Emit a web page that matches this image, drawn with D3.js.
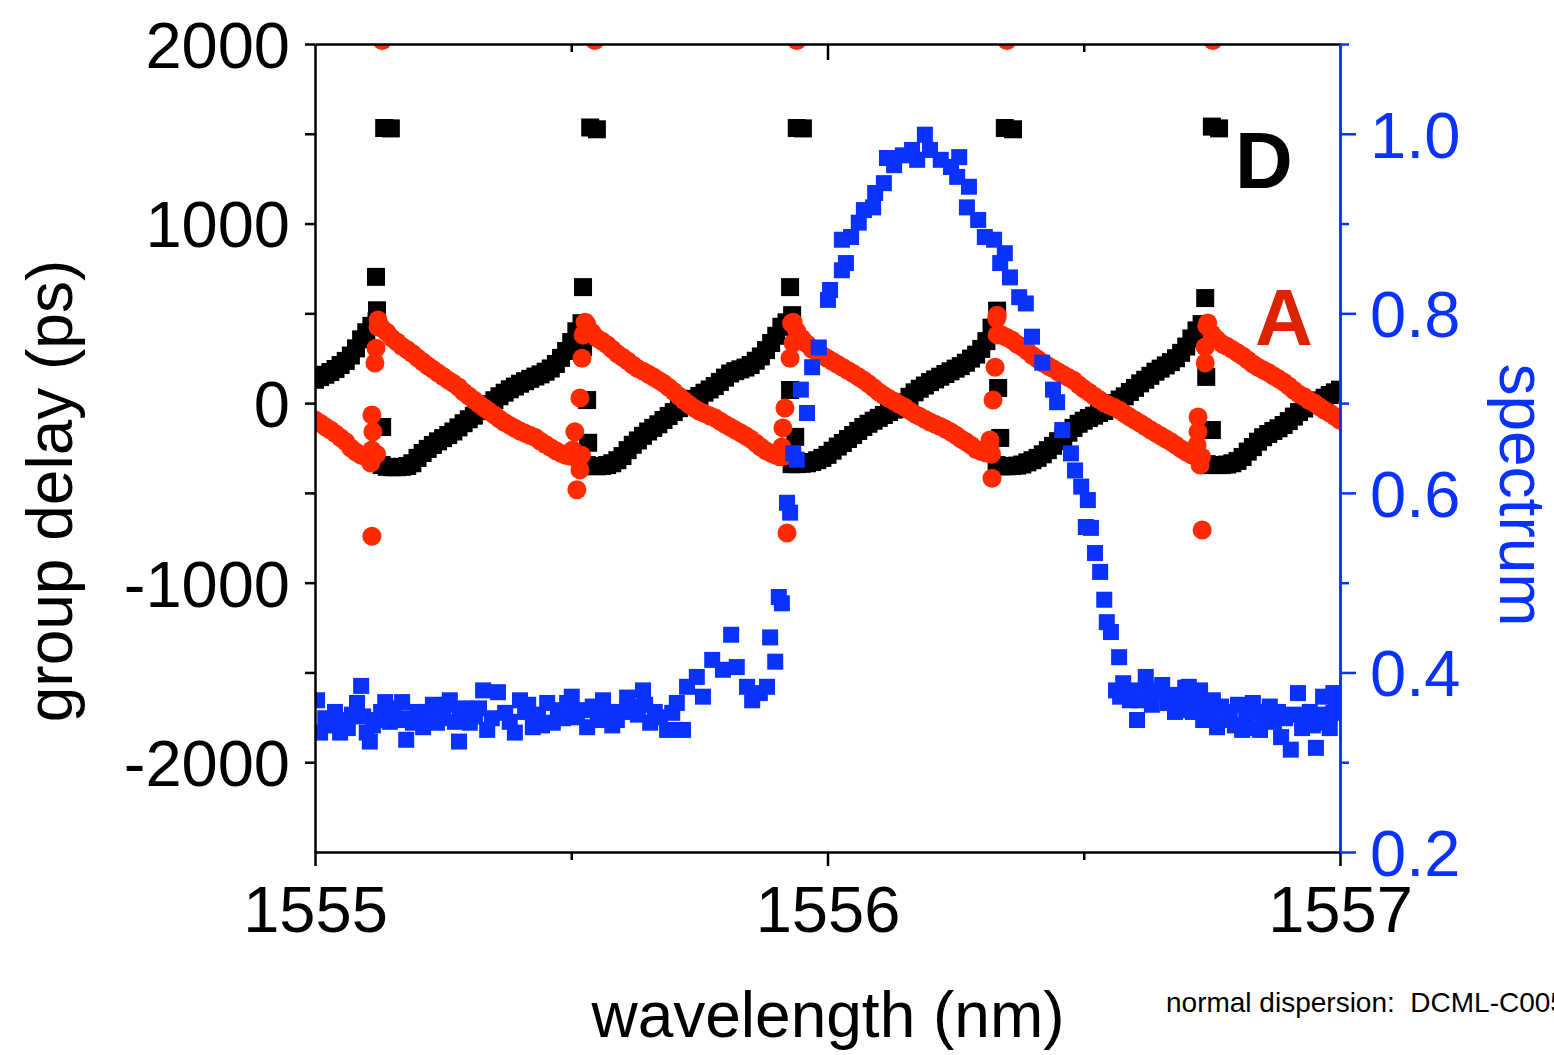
<!DOCTYPE html>
<html>
<head>
<meta charset="utf-8">
<script src="https://cdn.jsdelivr.net/npm/d3@7"></script>
<style>
  html, body { margin: 0; padding: 0; background: #fff; }
  svg { display: block; font-family: "Liberation Sans", Arial, Helvetica, sans-serif; }
</style>
</head>
<body>
<svg id="chart" width="1554" height="1055"></svg>
<script>
// ---- data -------------------------------------------------------------
// sampled wavelengths (nm) for the two group-delay traces
const wavelengths = [
  1555.00,1555.01,1555.02,1555.03,1555.04,1555.05,1555.06,1555.07,1555.08,1555.09,
  1555.10,1555.11,1555.12,1555.13,1555.14,1555.15,1555.16,1555.17,1555.18,1555.19,
  1555.20,1555.21,1555.22,1555.23,1555.24,1555.25,1555.26,1555.27,1555.28,1555.29,
  1555.30,1555.31,1555.32,1555.33,1555.34,1555.35,1555.36,1555.37,1555.38,1555.39,
  1555.40,1555.41,1555.42,1555.43,1555.44,1555.45,1555.46,1555.47,1555.48,1555.49,
  1555.50,1555.51,1555.52,1555.53,1555.54,1555.55,1555.56,1555.57,1555.58,1555.59,
  1555.60,1555.61,1555.62,1555.63,1555.64,1555.65,1555.66,1555.67,1555.68,1555.69,
  1555.70,1555.71,1555.72,1555.73,1555.74,1555.75,1555.76,1555.77,1555.78,1555.79,
  1555.80,1555.81,1555.82,1555.83,1555.84,1555.85,1555.86,1555.87,1555.88,1555.89,
  1555.90,1555.91,1555.92,1555.93,1555.94,1555.95,1555.96,1555.97,1555.98,1555.99,
  1556.00,1556.01,1556.02,1556.03,1556.04,1556.05,1556.06,1556.07,1556.08,1556.09,
  1556.10,1556.11,1556.12,1556.13,1556.14,1556.15,1556.16,1556.17,1556.18,1556.19,
  1556.20,1556.21,1556.22,1556.23,1556.24,1556.25,1556.26,1556.27,1556.28,1556.29,
  1556.30,1556.31,1556.32,1556.33,1556.34,1556.35,1556.36,1556.37,1556.38,1556.39,
  1556.40,1556.41,1556.42,1556.43,1556.44,1556.45,1556.46,1556.47,1556.48,1556.49,
  1556.50,1556.51,1556.52,1556.53,1556.54,1556.55,1556.56,1556.57,1556.58,1556.59,
  1556.60,1556.61,1556.62,1556.63,1556.64,1556.65,1556.66,1556.67,1556.68,1556.69,
  1556.70,1556.71,1556.72,1556.73,1556.74,1556.75,1556.76,1556.77,1556.78,1556.79,
  1556.80,1556.81,1556.82,1556.83,1556.84,1556.85,1556.86,1556.87,1556.88,1556.89,
  1556.90,1556.91,1556.92,1556.93,1556.94,1556.95,1556.96,1556.97,1556.98,1556.99,
  1557.00
];

// group delay (ps), trace D (black squares)
const delayD = [
  130,145,158,173,190,212,235,265,305,355,395,430,455,
  -345,-355,-357,-357,-355,-350,-335,-305,-278,-255,-233,-213,-195,-178,-158,-135,-112,-90,-70,-45,-24,-6,16,38,58,77,92,108,122,135,148,160,175,193,218,252,290,340,400,445,
  -345,-350,-352,-350,-345,-335,-318,-295,-262,-232,-208,-182,-158,-138,-118,-94,-72,-50,-28,-10,8,24,40,58,76,95,118,142,165,178,188,198,212,236,260,295,335,375,425,450,
  -340,-340,-338,-335,-328,-318,-305,-288,-265,-242,-222,-200,-178,-155,-133,-115,-98,-82,-66,-50,-36,-20,5,35,60,80,98,117,132,147,162,177,192,206,225,248,270,302,345,420,
  -345,-352,-352,-350,-348,-342,-330,-318,-305,-285,-262,-238,-212,-190,-165,-138,-115,-98,-83,-70,-55,-44,-25,0,20,38,62,85,110,130,152,175,192,210,228,250,280,315,360,405,440,
  -340,-345,-345,-345,-342,-335,-322,-300,-270,-245,-215,-190,-172,-155,-140,-122,-100,-75,-50,-30,-12,2,15,30,45,60,75
];

// group delay (ps), trace A (red circles)
const delayA = [
  -94,-112,-132,-150,-170,-193,-215,-250,-272,-290,-300,-300,-285,
  420,395,362,340,315,297,276,252,230,208,188,168,148,128,110,90,62,40,17,-5,-26,-46,-66,-88,-108,-124,-140,-155,-168,-180,-192,-212,-230,-248,-265,-280,-292,-298,-300,-290,
  440,395,362,345,325,300,275,255,235,212,192,178,162,145,128,110,88,65,40,15,-8,-28,-45,-58,-70,-82,-100,-118,-133,-150,-165,-182,-200,-222,-246,-265,-280,-292,-298,-292,
  445,400,360,330,300,283,265,248,232,215,198,182,165,147,129,108,86,62,42,25,10,-6,-22,-42,-60,-75,-90,-105,-118,-130,-144,-160,-178,-198,-215,-235,-258,-270,-278,-285,
  470,380,365,350,328,312,290,265,245,225,208,192,175,158,142,127,102,80,60,40,20,0,-12,-25,-40,-60,-78,-95,-112,-130,-148,-165,-182,-198,-215,-235,-255,-272,-288,-298,-300,
  430,385,355,330,315,298,280,262,240,218,200,185,170,152,135,118,95,72,50,35,15,0,-20,-40,-55,-75,-95
];

// scattered readings around each 2π phase wrap, [wavelength, delay]
const wrapPointsD = [
  [1555.119,703],[1555.121,517],[1555.131,-133],[1555.135,1532],[1555.148,1530],
  [1555.523,646],[1555.523,312],[1555.531,17],[1555.533,-221],[1555.537,1535],[1555.550,1525],
  [1555.927,646],[1555.931,490],[1555.927,73],[1555.937,-188],[1555.940,1532],[1555.952,1530],
  [1556.331,515],[1556.333,84],[1556.337,-194],[1556.346,1532],[1556.362,1525],
  [1556.737,585],[1556.739,146],[1556.750,-150],[1556.750,1540],[1556.764,1530]
];
const wrapPointsA = [
  [1555.109,-334],[1555.111,-261],[1555.113,-160],[1555.111,-66],[1555.111,-741],[1555.117,223],[1555.119,306],[1555.123,424],[1555.123,463],[1555.131,2020],
  [1555.503,-261],[1555.507,-160],[1555.517,-372],[1555.511,-483],[1555.517,28],[1555.521,250],[1555.523,379],[1555.527,451],[1555.546,2020],
  [1555.917,-27],[1555.913,-138],[1555.911,-244],[1555.907,-299],[1555.921,-723],[1555.927,250],[1555.933,334],[1555.933,451],[1555.940,2020],
  [1556.331,490],[1556.331,380],[1556.327,200],[1556.323,17],[1556.317,-205],[1556.317,-250],[1556.321,-418],[1556.350,2020],
  [1556.742,446],[1556.737,312],[1556.737,223],[1556.723,-77],[1556.723,-160],[1556.721,-233],[1556.727,-345],[1556.731,-707],[1556.752,2020]
];

// optical spectrum, [wavelength, normalised power] (right axis)
const spectrum = [
  [1555.004,0.369],[1555.010,0.333],[1555.020,0.349],[1555.029,0.341],[1555.039,0.356],[1555.049,0.333],[1555.055,0.347],[1555.064,0.338],
  [1555.072,0.353],[1555.082,0.366],[1555.090,0.385],[1555.094,0.351],[1555.101,0.333],[1555.107,0.323],[1555.113,0.341],[1555.121,0.347],
  [1555.129,0.356],[1555.137,0.367],[1555.146,0.345],[1555.152,0.360],[1555.160,0.347],[1555.170,0.367],[1555.178,0.325],[1555.181,0.349],
  [1555.191,0.344],[1555.201,0.356],[1555.211,0.339],[1555.220,0.356],[1555.230,0.364],[1555.238,0.344],[1555.250,0.349],[1555.258,0.364],
  [1555.263,0.369],[1555.273,0.345],[1555.281,0.323],[1555.283,0.355],[1555.293,0.360],[1555.302,0.344],[1555.312,0.351],[1555.320,0.360],
  [1555.328,0.380],[1555.336,0.336],[1555.345,0.349],[1555.357,0.378],[1555.371,0.355],[1555.380,0.345],[1555.390,0.333],[1555.400,0.369],
  [1555.410,0.356],[1555.416,0.364],[1555.425,0.339],[1555.435,0.353],[1555.443,0.341],[1555.453,0.366],[1555.464,0.344],[1555.474,0.358],
  [1555.484,0.349],[1555.492,0.366],[1555.501,0.373],[1555.511,0.350],[1555.521,0.358],[1555.531,0.339],[1555.542,0.362],[1555.552,0.347],
  [1555.562,0.369],[1555.572,0.356],[1555.580,0.341],[1555.589,0.347],[1555.599,0.356],[1555.609,0.372],[1555.620,0.362],[1555.630,0.353],
  [1555.640,0.380],[1555.644,0.364],[1555.654,0.344],[1555.663,0.356],[1555.673,0.350],[1555.687,0.336],[1555.697,0.355],[1555.706,0.366],
  [1555.718,0.336],[1555.726,0.384],[1555.745,0.395],[1555.757,0.373],[1555.775,0.414],[1555.796,0.403],[1555.812,0.442],[1555.823,0.406],
  [1555.843,0.384],[1555.853,0.369],[1555.868,0.377],[1555.882,0.384],[1555.888,0.439],[1555.898,0.412],[1555.905,0.484],[1555.911,0.477],
  [1555.921,0.589],[1555.927,0.578],[1555.933,0.644],[1555.940,0.637],[1555.948,0.715],[1555.960,0.689],[1555.970,0.740],[1555.983,0.762],
  [1556.001,0.815],[1556.005,0.826],[1556.028,0.848],[1556.036,0.856],[1556.028,0.882],[1556.046,0.885],[1556.061,0.901],[1556.071,0.915],
  [1556.089,0.918],[1556.093,0.934],[1556.110,0.945],[1556.116,0.973],[1556.130,0.965],[1556.147,0.976],[1556.165,0.982],[1556.175,0.971],
  [1556.190,0.999],[1556.200,0.982],[1556.221,0.971],[1556.241,0.963],[1556.257,0.974],[1556.253,0.952],[1556.276,0.941],[1556.272,0.918],
  [1556.294,0.904],[1556.307,0.885],[1556.325,0.882],[1556.346,0.867],[1556.337,0.856],[1556.356,0.840],[1556.374,0.818],[1556.387,0.811],
  [1556.399,0.774],[1556.419,0.745],[1556.440,0.715],[1556.448,0.701],[1556.458,0.670],[1556.475,0.644],[1556.483,0.625],[1556.495,0.607],
  [1556.508,0.592],[1556.504,0.562],[1556.514,0.561],[1556.522,0.533],[1556.532,0.512],[1556.540,0.481],[1556.545,0.456],[1556.553,0.445],
  [1556.569,0.417],[1556.563,0.380],[1556.571,0.373],[1556.577,0.388],[1556.590,0.369],[1556.598,0.380],[1556.604,0.347],[1556.610,0.369],
  [1556.621,0.395],[1556.629,0.380],[1556.633,0.364],[1556.645,0.377],[1556.653,0.386],[1556.664,0.366],[1556.672,0.375],[1556.678,0.356],
  [1556.686,0.358],[1556.694,0.369],[1556.698,0.383],[1556.705,0.384],[1556.713,0.356],[1556.719,0.369],[1556.727,0.380],[1556.733,0.347],
  [1556.740,0.364],[1556.746,0.349],[1556.752,0.369],[1556.760,0.339],[1556.768,0.362],[1556.776,0.347],[1556.785,0.356],[1556.795,0.341],
  [1556.801,0.364],[1556.809,0.336],[1556.817,0.353],[1556.824,0.338],[1556.830,0.366],[1556.836,0.356],[1556.844,0.336],[1556.852,0.347],
  [1556.863,0.362],[1556.871,0.345],[1556.879,0.356],[1556.885,0.328],[1556.893,0.349],[1556.904,0.314],[1556.910,0.353],[1556.918,0.377],
  [1556.926,0.338],[1556.932,0.350],[1556.941,0.356],[1556.947,0.341],[1556.953,0.316],[1556.961,0.353],[1556.967,0.373],[1556.973,0.344],
  [1556.980,0.338],[1556.987,0.355],[1556.987,0.377],[1556.992,0.364]
];

// axis ticks and labels
const delayTicks = [-2000,-1500,-1000,-500,0,500,1000,1500,2000];
const delayLabels = [-2000,-1000,0,1000,2000];
const wlMajorTicks = [1555,1556,1557];
const wlMinorTicks = [1555.5,1556.5];
const specMajorTicks = [0.2,0.4,0.6,0.8,1.0];
const specMinorTicks = [0.3,0.5,0.7,0.9,1.1];

// ---- layout & scales --------------------------------------------------
const plot = { left: 315, right: 1340, top: 44, bottom: 852 };
const BLACK = "#000000", RED = "#ff2a00", BLUE = "#0a32ff", LABEL_RED = "#dd2200";
const FONT = 65;

const x  = d3.scaleLinear().domain([1555, 1557]).range([plot.left, plot.right]);
const yL = d3.scaleLinear().domain([-2500, 2000]).range([plot.bottom, plot.top]);
const yR = d3.scaleLinear().domain([0.2, 1.1]).range([plot.bottom, plot.top]);

const svg = d3.select("#chart");

svg.append("defs").append("clipPath").attr("id", "plotClip")
  .append("rect")
  .attr("x", plot.left).attr("y", plot.top)
  .attr("width", plot.right - plot.left).attr("height", plot.bottom - plot.top);

const marks = svg.append("g").attr("clip-path", "url(#plotClip)");

const SQ_D = 18, SQ_S = 16, R = 9.5;
const n = Math.min(wavelengths.length, delayD.length, delayA.length);
const traceD = d3.range(n).map(i => [wavelengths[i], delayD[i]]).concat(wrapPointsD);
const traceA = d3.range(n).map(i => [wavelengths[i], delayA[i]]).concat(wrapPointsA);

// trace D: black squares
marks.append("g").selectAll("rect").data(traceD).join("rect")
  .attr("x", d => x(d[0]) - SQ_D / 2).attr("y", d => yL(d[1]) - SQ_D / 2)
  .attr("width", SQ_D).attr("height", SQ_D).attr("fill", BLACK);

// trace A: red circles
marks.append("g").selectAll("circle").data(traceA).join("circle")
  .attr("cx", d => x(d[0])).attr("cy", d => yL(d[1])).attr("r", R).attr("fill", RED);

// spectrum: blue squares on the right axis
marks.append("g").selectAll("rect").data(spectrum).join("rect")
  .attr("x", d => x(d[0]) - SQ_S / 2).attr("y", d => yR(d[1]) - SQ_S / 2)
  .attr("width", SQ_S).attr("height", SQ_S).attr("fill", BLUE);

// ---- axes -------------------------------------------------------------
function styleAxis(g, color) {
  g.selectAll(".domain").attr("stroke", color).attr("stroke-width", 2.5);
  g.selectAll(".tick line").attr("stroke", color).attr("stroke-width", 2.5);
  g.selectAll(".tick text").attr("fill", color).attr("font-size", FONT)
    .attr("font-family", '"Liberation Sans", Arial, Helvetica, sans-serif');
}

// left: group delay
const gLeft = svg.append("g").attr("transform", `translate(${plot.left},0)`)
  .call(d3.axisLeft(yL).tickValues(delayTicks).tickSize(10).tickSizeOuter(0).tickPadding(15)
    .tickFormat(d => delayLabels.includes(d) ? String(d) : ""));
styleAxis(gLeft, BLACK);
gLeft.selectAll(".tick text").attr("dy", "0.36em");

// bottom: wavelength
const gBottomMinor = svg.append("g").attr("transform", `translate(0,${plot.bottom})`)
  .call(d3.axisBottom(x).tickValues(wlMinorTicks).tickSize(8).tickSizeOuter(0).tickFormat(""));
styleAxis(gBottomMinor, BLACK);
const gBottom = svg.append("g").attr("transform", `translate(0,${plot.bottom})`)
  .call(d3.axisBottom(x).tickValues(wlMajorTicks).tickSize(14).tickSizeOuter(0).tickFormat(d => String(d)));
styleAxis(gBottom, BLACK);
gBottom.select(".domain").remove();
gBottom.selectAll(".tick text").attr("y", 80).attr("dy", null);

// top frame with inward ticks
const gTopMinor = svg.append("g").attr("transform", `translate(0,${plot.top})`)
  .call(d3.axisBottom(x).tickValues(wlMinorTicks).tickSize(8).tickSizeOuter(0).tickFormat(""));
styleAxis(gTopMinor, BLACK);
const gTopMajor = svg.append("g").attr("transform", `translate(0,${plot.top})`)
  .call(d3.axisBottom(x).tickValues([1556]).tickSize(16).tickSizeOuter(0).tickFormat(""));
styleAxis(gTopMajor, BLACK);
gTopMajor.select(".domain").remove();

// right: spectrum
const gRightMinor = svg.append("g").attr("transform", `translate(${plot.right},0)`)
  .call(d3.axisRight(yR).tickValues(specMinorTicks).tickSize(9).tickSizeOuter(0).tickFormat(""));
styleAxis(gRightMinor, BLUE);
const gRight = svg.append("g").attr("transform", `translate(${plot.right},0)`)
  .call(d3.axisRight(yR).tickValues(specMajorTicks).tickSize(16).tickSizeOuter(0).tickPadding(14)
    .tickFormat(d3.format(".1f")));
styleAxis(gRight, BLUE);
gRight.selectAll(".tick text").attr("dy", "0.36em");

// ---- titles & annotations ---------------------------------------------
svg.append("text")
  .attr("transform", "translate(72,491) rotate(-90)")
  .attr("text-anchor", "middle").attr("font-size", 64).attr("fill", BLACK)
  .text("group delay (ps)");

svg.append("text")
  .attr("x", 828).attr("y", 1037)
  .attr("text-anchor", "middle").attr("font-size", 64).attr("fill", BLACK)
  .text("wavelength (nm)");

svg.append("text")
  .attr("transform", "translate(1500,495) rotate(90)")
  .attr("text-anchor", "middle").attr("font-size", 64).attr("fill", BLUE)
  .text("spectrum");

svg.append("text")
  .attr("x", 1235).attr("y", 188)
  .attr("font-size", 80).attr("font-weight", "bold").attr("fill", BLACK)
  .text("D");

svg.append("text")
  .attr("x", 1255).attr("y", 345)
  .attr("font-size", 80).attr("font-weight", "bold").attr("fill", LABEL_RED)
  .text("A");

svg.append("text")
  .attr("x", 1166).attr("y", 1012)
  .attr("font-size", 28).attr("fill", BLACK)
  .attr("xml:space", "preserve")
  .text("normal dispersion:  DCML-C005");
</script>
</body>
</html>
